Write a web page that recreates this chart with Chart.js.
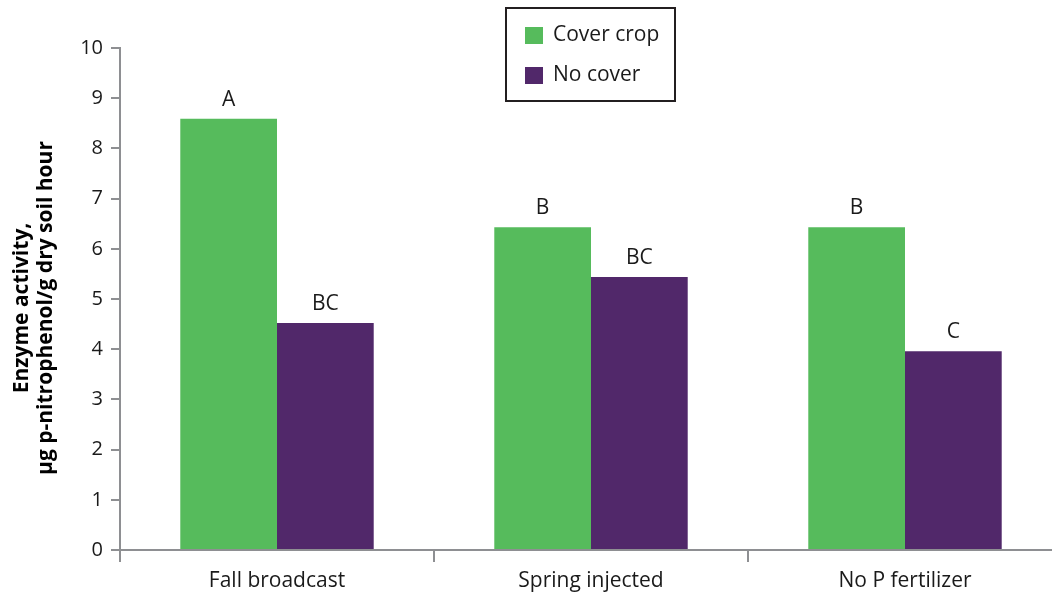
<!DOCTYPE html>
<html>
<head>
  <title>Enzyme activity</title>
  <script src="https://cdn.jsdelivr.net/npm/chart.js"></script>
  <style>
    body {
      margin: 0;
      background: white;
    }

    .wrap {
      width: 1052px;
      height: 599px;
      overflow: hidden;
    }
  </style>
</head>
<body>

  <div class="wrap">
    <canvas id="enzymeChart" width="1062" height="599"></canvas>
  </div>

  <script>
    const categories = ['Fall broadcast', 'Spring injected', 'No P fertilizer'];
    const coverCrop = [8.59, 6.43, 6.43];
    const noCover = [4.52, 5.44, 3.96];
    const coverLetters = ['A', 'B', 'B'];
    const noCoverLetters = ['BC', 'BC', 'C'];
    const yTicks = [0, 1, 2, 3, 4, 5, 6, 7, 8, 9, 10];
    const yTitle = ['Enzyme activity,', 'µg p-nitrophenol/g dry soil hour'];

    const FONT = "'Open Sans', sans-serif";
    const AXIS_GREY = '#8e8f92';

    // letters above each bar
    const letterPlugin = {
      id: 'letters',
      afterDatasetsDraw(chart) {
        const ctx = chart.ctx;
        ctx.save();
        ctx.font = '21px ' + FONT;
        ctx.fillStyle = '#1a1a1a';
        ctx.textAlign = 'center';
        ctx.textBaseline = 'alphabetic';
        chart.data.datasets.forEach((ds, i) => {
          chart.getDatasetMeta(i).data.forEach((bar, j) => {
            ctx.fillText(ds.letters[j], bar.x, bar.y - 13);
          });
        });
        ctx.restore();
      }
    };

    // boxed legend at the top
    const boxLegend = {
      id: 'boxLegend',
      afterDraw(chart) {
        const ctx = chart.ctx;
        ctx.save();
        ctx.strokeStyle = '#231f20';
        ctx.lineWidth = 2;
        ctx.strokeRect(506, 8, 169, 93);
        ctx.font = '21px ' + FONT;
        ctx.textBaseline = 'middle';
        chart.data.datasets.forEach((ds, i) => {
          const y = 35 + i * 40;
          ctx.fillStyle = ds.backgroundColor;
          ctx.fillRect(525, y - 8, 18, 17);
          ctx.fillStyle = '#1a1a1a';
          ctx.fillText(ds.label, 553, y);
        });
        ctx.restore();
      }
    };

    // two-line rotated y title, sits a bit below the axis middle
    const yTitlePlugin = {
      id: 'yTitle',
      afterDraw(chart) {
        const ctx = chart.ctx;
        ctx.save();
        ctx.translate(0, 308);
        ctx.rotate(-Math.PI / 2);
        ctx.font = 'bold 21px ' + FONT;
        ctx.fillStyle = '#000';
        ctx.textAlign = 'center';
        ctx.textBaseline = 'middle';
        yTitle.forEach((line, i) => {
          ctx.fillText(line, 0, 22 + i * 24);
        });
        ctx.restore();
      }
    };

    const ctx = document.getElementById('enzymeChart').getContext('2d');
    const enzymeChart = new Chart(ctx, {
      type: 'bar',
      data: {
        labels: categories,
        datasets: [{
          label: 'Cover crop',
          data: coverCrop,
          letters: coverLetters,
          backgroundColor: '#56bb5c',
          barPercentage: 1,
          categoryPercentage: 0.616
        }, {
          label: 'No cover',
          data: noCover,
          letters: noCoverLetters,
          backgroundColor: '#51286a',
          barPercentage: 1,
          categoryPercentage: 0.616
        }]
      },
      options: {
        responsive: false,
        animation: false,
        layout: {
          padding: { top: 48, right: 0, bottom: 0, left: 0 }
        },
        scales: {
          x: {
            afterFit(scale) { scale.height = 49; },
            grid: {
              offset: true,
              drawOnChartArea: false,
              color: AXIS_GREY,
              lineWidth: 2,
              tickLength: 12
            },
            border: { color: AXIS_GREY, width: 2 },
            ticks: {
              color: '#1a1a1a',
              font: { family: FONT, size: 21 },
              padding: 6
            }
          },
          y: {
            min: 0,
            max: 10,
            afterFit(scale) { scale.width = 120; },
            afterBuildTicks(scale) {
              scale.ticks = yTicks.map(v => ({ value: v }));
            },
            grid: {
              drawOnChartArea: false,
              color: AXIS_GREY,
              lineWidth: 2,
              tickLength: 9
            },
            border: { color: AXIS_GREY, width: 2 },
            ticks: {
              color: '#1a1a1a',
              font: { family: FONT, size: 20 },
              padding: 8
            }
          }
        },
        plugins: {
          legend: { display: false },
          tooltip: { enabled: false }
        }
      },
      plugins: [letterPlugin, boxLegend, yTitlePlugin]
    });
  </script>

</body>
</html>
